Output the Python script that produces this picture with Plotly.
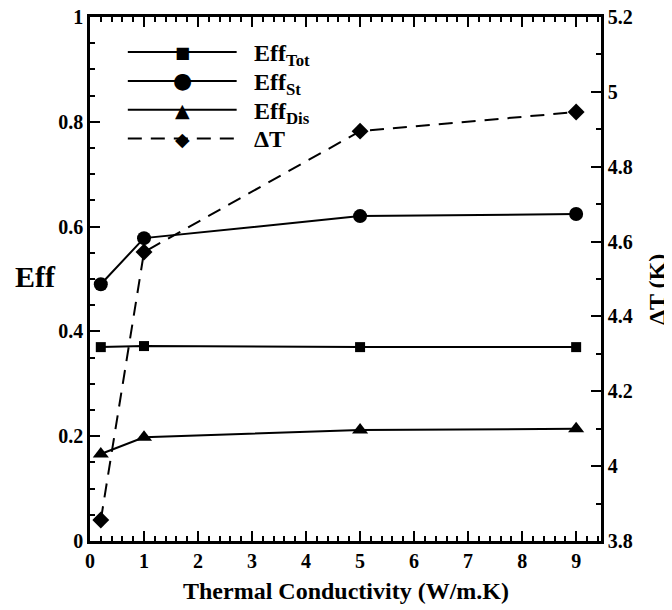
import plotly.graph_objects as go

# Data
conductivity = [0.2, 1, 5, 9]
eff_tot = [0.370, 0.372, 0.370, 0.370]
eff_st = [0.490, 0.578, 0.620, 0.624]
eff_dis = [0.166, 0.198, 0.212, 0.214]
delta_t = [3.856, 4.572, 4.895, 4.946]

x_ticks = [0, 1, 2, 3, 4, 5, 6, 7, 8, 9]
y_ticks = [0, 0.2, 0.4, 0.6, 0.8, 1]
y_tick_labels = ["0", "0.2", "0.4", "0.6", "0.8", "1"]
y2_ticks = [3.8, 4.0, 4.2, 4.4, 4.6, 4.8, 5.0, 5.2]
y2_tick_labels = ["3.8", "4", "4.2", "4.4", "4.6", "4.8", "5", "5.2"]

series_names = ["Eff<sub>Tot</sub>", "Eff<sub>St</sub>", "Eff<sub>Dis</sub>", "ΔT"]
series_symbols = ["square", "circle", "triangle-up", "diamond"]
legend_glyphs = ["■", "●", "▲", "◆"]
legend_glyph_sizes = [16, 22, 19, 19]
series_dash = ["solid", "solid", "solid", "14px,9px"]

FONT = "Liberation Serif"
BOLD = dict(family=FONT, color="black", weight="bold")

fig = go.Figure()
for vals, name, sym, dash, size, yax in zip(
        [eff_tot, eff_st, eff_dis, delta_t], series_names, series_symbols, series_dash,
        [10, 14, 14, 13], ["y", "y", "y", "y2"]):
    fig.add_trace(go.Scatter(x=conductivity, y=vals, name=name, mode="lines+markers", yaxis=yax,
                             showlegend=False,
                             line=dict(color="black", width=2, dash=dash),
                             marker=dict(symbol=sym, size=size, color="black")))

def bold(labels):
    return [f"<b>{t}</b>" for t in labels]

def axis_style(**extra):
    d = dict(showline=True, linecolor="black", linewidth=2.5, ticks="inside", tickcolor="black",
             tickwidth=2, ticklen=10, showgrid=False, zeroline=False, automargin=False,
             tickmode="array", ticklabeloverflow="allow")
    d.update(extra)
    return d

# Manual legend (long sample lines as in the reference)
shapes = []
annotations = []
leg_x0, leg_x1, leg_text_x = 0.074, 0.287, 0.318
leg_y0, leg_dy = 0.933, 0.055
for i, (name, glyph, gsize, dash) in enumerate(zip(series_names, legend_glyphs, legend_glyph_sizes, series_dash)):
    yy = leg_y0 - i * leg_dy
    shapes.append(dict(type="line", xref="paper", yref="paper", x0=leg_x0, x1=leg_x1, y0=yy, y1=yy,
                       line=dict(color="black", width=2, dash=dash)))
    annotations.append(dict(text=glyph, xref="paper", yref="paper", x=(leg_x0 + leg_x1) / 2, y=yy,
                            xanchor="center", yanchor="middle", showarrow=False,
                            font=dict(family="DejaVu Sans", size=gsize, color="black")))
    annotations.append(dict(text=name, xref="paper", yref="paper", x=leg_text_x, y=yy - (0.006 if i < 3 else 0),
                            xanchor="left", yanchor="middle", showarrow=False,
                            font=dict(size=24, **BOLD)))

annotations.append(dict(text="Eff", xref="paper", yref="paper", x=-0.1076, y=0.5057, xanchor="center",
                        yanchor="middle", showarrow=False, font=dict(size=30, **BOLD)))
annotations.append(dict(text="Thermal Conductivity (W/m.K)", xref="paper", yref="paper", x=0.501, y=-0.0954,
                        xanchor="center", yanchor="middle", showarrow=False, font=dict(size=24, **BOLD)))
annotations.append(dict(text="ΔT (K)", xref="paper", yref="paper", x=1.1096, y=0.479, textangle=-90,
                        xanchor="center", yanchor="middle", showarrow=False, font=dict(size=24, **BOLD)))

tick_font = dict(family=FONT, size=20, color="black", weight="bold")

fig.update_layout(
    width=664, height=602,
    margin=dict(l=82, r=71, t=9, b=69, autoexpand=False),
    paper_bgcolor="white", plot_bgcolor="white",
    font=dict(size=20, family=FONT, color="black"),
    showlegend=False,
    shapes=shapes,
    annotations=annotations,
    xaxis=axis_style(range=[0, 9.46], tickvals=x_ticks, ticktext=bold([str(v) for v in x_ticks]),
                     mirror="ticks", tickfont=tick_font,
                     minor=dict(ticks="inside", dtick=0.2, tick0=0, ticklen=5, tickcolor="black",
                                tickwidth=1.5, showgrid=False)),
    yaxis=axis_style(range=[0, 1], tickvals=y_ticks, ticktext=bold(y_tick_labels), tickfont=tick_font,
                     minor=dict(ticks="inside", dtick=0.05, tick0=0, ticklen=5, tickcolor="black",
                                tickwidth=1.5, showgrid=False)),
    yaxis2=axis_style(range=[3.8, 5.2], tickvals=y2_ticks, ticktext=bold(y2_tick_labels), overlaying="y",
                      side="right", tickfont=tick_font,
                      minor=dict(ticks="inside", dtick=0.1, tick0=3.8, ticklen=5, tickcolor="black",
                                 tickwidth=1.5, showgrid=False)),
)

fig.write_html("out.html")
